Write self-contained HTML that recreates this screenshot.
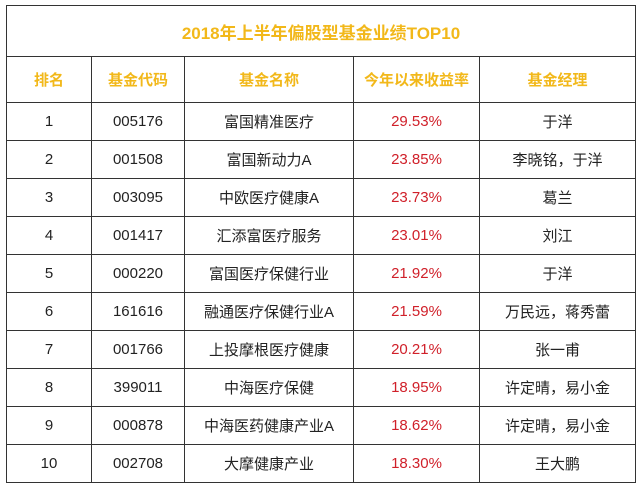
<!DOCTYPE html>
<html><head><meta charset="utf-8"><style>
html,body{margin:0;padding:0;background:#fff;width:640px;height:487px;overflow:hidden}
table{position:absolute;left:6px;top:5px;border-collapse:collapse;table-layout:fixed;
font-family:"Liberation Sans","Noto Sans CJK SC",sans-serif;font-size:15px;color:#222}
td{border:1.5px solid #333;text-align:center;padding:0;height:37px}
.t td{height:50px;color:#f2b81a;font-weight:bold;font-size:17px}
.h td{height:45px;color:#f2b81a;font-weight:bold;font-size:15px}
.r{color:#d0202a}
</style></head><body>
<table>
<colgroup><col style="width:85px"><col style="width:93px"><col style="width:169px"><col style="width:126px"><col style="width:156px"></colgroup>
<tr class="t"><td colspan="5">2018年上半年偏股型基金业绩TOP10</td></tr>
<tr class="h"><td>排名</td><td>基金代码</td><td>基金名称</td><td>今年以来收益率</td><td>基金经理</td></tr>
<tr><td>1</td><td>005176</td><td>富国精准医疗</td><td class="r">29.53%</td><td>于洋</td></tr>
<tr><td>2</td><td>001508</td><td>富国新动力A</td><td class="r">23.85%</td><td>李晓铭，于洋</td></tr>
<tr><td>3</td><td>003095</td><td>中欧医疗健康A</td><td class="r">23.73%</td><td>葛兰</td></tr>
<tr><td>4</td><td>001417</td><td>汇添富医疗服务</td><td class="r">23.01%</td><td>刘江</td></tr>
<tr><td>5</td><td>000220</td><td>富国医疗保健行业</td><td class="r">21.92%</td><td>于洋</td></tr>
<tr><td>6</td><td>161616</td><td>融通医疗保健行业A</td><td class="r">21.59%</td><td>万民远，蒋秀蕾</td></tr>
<tr><td>7</td><td>001766</td><td>上投摩根医疗健康</td><td class="r">20.21%</td><td>张一甫</td></tr>
<tr><td>8</td><td>399011</td><td>中海医疗保健</td><td class="r">18.95%</td><td>许定晴，易小金</td></tr>
<tr><td>9</td><td>000878</td><td>中海医药健康产业A</td><td class="r">18.62%</td><td>许定晴，易小金</td></tr>
<tr><td>10</td><td>002708</td><td>大摩健康产业</td><td class="r">18.30%</td><td>王大鹏</td></tr>
</table>
</body></html>
